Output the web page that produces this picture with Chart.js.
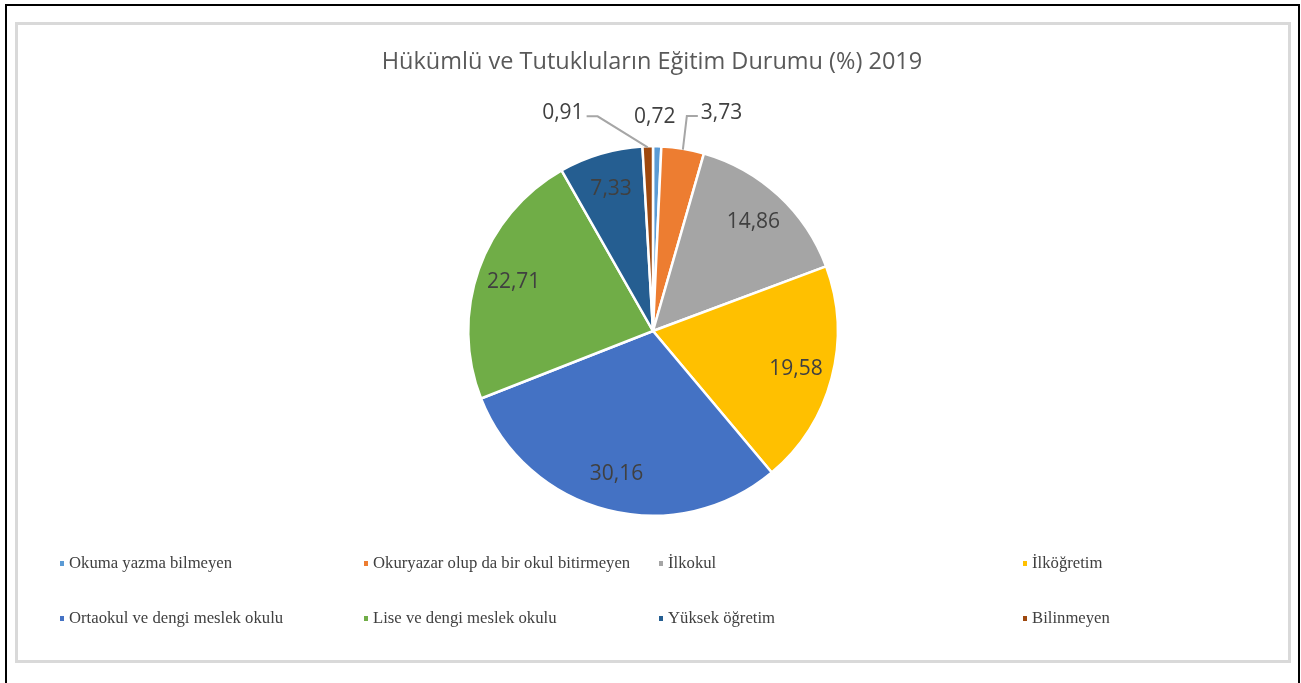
<!DOCTYPE html>
<html>
<head>
<meta charset="utf-8">
<script src="https://cdn.jsdelivr.net/npm/chart.js@4"></script>
<style>
  html, body { margin: 0; padding: 0; background: #fff; }
  #wrap { position: relative; width: 1301px; height: 683px; }
</style>
</head>
<body>
<div id="wrap"><canvas id="edu-chart" width="1301" height="683"></canvas></div>
<script>
const title = "Hükümlü ve Tutukluların Eğitim Durumu (%) 2019";
const categories = [
    "Okuma yazma bilmeyen",
    "Okuryazar olup da bir okul bitirmeyen",
    "İlkokul",
    "İlköğretim",
    "Ortaokul ve dengi meslek okulu",
    "Lise ve dengi meslek okulu",
    "Yüksek öğretim",
    "Bilinmeyen"
];
const values = [0.72, 3.73, 14.86, 19.58, 30.16, 22.71, 7.33, 0.91];
const colors = ["#5B9BD5", "#ED7D31", "#A5A5A5", "#FFC000", "#4472C4", "#70AD47", "#255E91", "#9E480E"];

// where the small slices put their labels (pixel shift from the plain outside spot)
const outsideShift = { 0: [-3, 0], 1: [34, -7], 7: [-84, -4] };
const leaderFor = [1, 7];

const fmt = (v) => v.toFixed(2).replace(".", ",");

// frame: outer black line, light gray chart border and the title
const framePlugin = {
    id: "frame",
    beforeDraw(chart) {
        const ctx = chart.ctx;
        ctx.save();
        ctx.fillStyle = "#fff";
        ctx.fillRect(0, 0, chart.width, chart.height);
        ctx.strokeStyle = "#000";
        ctx.lineWidth = 2;
        ctx.beginPath();
        ctx.moveTo(6, 690);
        ctx.lineTo(6, 5);
        ctx.lineTo(1299, 5);
        ctx.lineTo(1299, 690);
        ctx.stroke();
        ctx.strokeStyle = "#d9d9d9";
        ctx.lineWidth = 3;
        ctx.strokeRect(16.5, 23.5, 1273, 638);

        ctx.font = "23.5px 'Open Sans'";
        ctx.fillStyle = "#595959";
        ctx.textAlign = "center";
        ctx.textBaseline = "middle";
        ctx.fillText(title, 652, 62);
        ctx.restore();
    }
};

const labelPlugin = {
    id: "sliceLabels",
    afterDatasetsDraw(chart) {
        const ctx = chart.ctx;
        const arcs = chart.getDatasetMeta(0).data;
        ctx.save();
        ctx.font = "21px 'Open Sans'";
        ctx.fillStyle = "#404040";
        ctx.textAlign = "center";
        ctx.textBaseline = "middle";
        arcs.forEach((arc, i) => {
            const mid = (arc.startAngle + arc.endAngle) / 2;
            const r = arc.outerRadius;
            const txt = fmt(values[i]);
            if (outsideShift[i]) {
                const s = outsideShift[i];
                const lx = arc.x + Math.cos(mid) * (r + 29) + s[0];
                const ly = arc.y + Math.sin(mid) * (r + 29) + s[1];
                ctx.fillText(txt, lx, ly);
                if (leaderFor.includes(i)) {
                    const w = ctx.measureText(txt).width;
                    const px = arc.x + Math.cos(mid) * r;
                    const py = arc.y + Math.sin(mid) * (r - 1);
                    const side = px > lx ? 1 : -1;
                    const ex = lx + side * (w / 2 + 3);
                    const bx = ex + side * 11;
                    const by = ly + 3;
                    ctx.save();
                    ctx.strokeStyle = "#a6a6a6";
                    ctx.lineWidth = 2;
                    ctx.beginPath();
                    ctx.moveTo(px, py);
                    ctx.lineTo(bx, by);
                    ctx.lineTo(ex, by);
                    ctx.stroke();
                    ctx.restore();
                }
            } else {
                const lx = arc.x + Math.cos(mid) * r * 0.8;
                const ly = arc.y + Math.sin(mid) * r * 0.8;
                ctx.fillText(txt, lx, ly);
            }
        });
        ctx.restore();
    }
};

// legend in a 4 x 2 grid like the Excel one
const legendCols = [62, 366, 661, 1025];
const legendRows = [563, 618];
const legendPlugin = {
    id: "gridLegend",
    afterDraw(chart) {
        const ctx = chart.ctx;
        ctx.save();
        ctx.font = "16.7px 'Liberation Serif'";
        ctx.textBaseline = "middle";
        ctx.textAlign = "left";
        categories.forEach((name, i) => {
            const x = legendCols[i % 4];
            const y = legendRows[Math.floor(i / 4)];
            ctx.fillStyle = colors[i];
            ctx.fillRect(x - 2, y - 2, 4, 5);
            ctx.fillStyle = "#404040";
            ctx.fillText(name, x + 7, y + 1);
        });
        ctx.restore();
    }
};

const config = {
    type: "pie",
    data: {
        labels: categories,
        datasets: [{
            data: values,
            backgroundColor: colors,
            borderColor: "#fff",
            borderWidth: 2.5,
        }],
    },
    options: {
        responsive: false,
        animation: false,
        layout: { padding: { top: 145, left: 400, right: 395, bottom: 166 } },
        plugins: {
            legend: { display: false },
            tooltip: { enabled: false },
            title: { display: false },
        },
    },
    plugins: [framePlugin, labelPlugin, legendPlugin],
};

const eduChart = new Chart(document.getElementById("edu-chart"), config);
</script>
</body>
</html>
